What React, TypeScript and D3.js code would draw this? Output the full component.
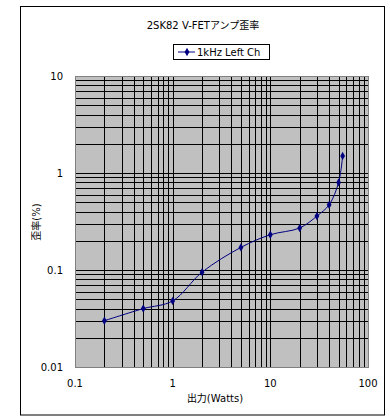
import React, { useEffect, useRef } from 'react';
import * as d3 from 'd3';

// 出力 (W) と歪率 (%)
const power = [0.2, 0.5, 1, 2, 5, 10, 20, 30, 40, 50, 55];
const distortion = [0.03, 0.04, 0.048, 0.095, 0.171, 0.231, 0.271, 0.36, 0.47, 0.8, 1.5];
const xTicks = [0.1, 1, 10, 100];
const xTickLabels = ['0.1', '1', '10', '100'];
const yTicks = [0.01, 0.1, 1, 10];
const yTickLabels = ['0.01', '0.1', '1', '10'];
const seriesName = '1kHz Left Ch';
const title = '2SK82 V-FETアンプ歪率';

const FONT = '"DejaVu Sans", "Noto Sans CJK JP", sans-serif';

const App = () => {
    const ref = useRef<SVGSVGElement>(null);

    useEffect(() => {
        const svg = d3.select(ref.current);
        svg.selectAll('*').remove();

        const plot = { left: 75, top: 76, right: 368, bottom: 367 };

        // 外枠
        svg.append('rect')
            .attr('x', 20.5).attr('y', 6.5)
            .attr('width', 364).attr('height', 408.5)
            .attr('fill', 'white').attr('stroke', 'black');

        const x = d3.scaleLog().domain([0.1, 100]).range([plot.left, plot.right]);
        const y = d3.scaleLog().domain([0.01, 10]).range([plot.bottom, plot.top]);

        // プロットエリア
        svg.append('rect')
            .attr('x', plot.left).attr('y', plot.top)
            .attr('width', plot.right - plot.left).attr('height', plot.bottom - plot.top)
            .attr('fill', '#c0c0c0');

        // グリッド (1..9 per decade)
        const xMinor: number[] = [];
        [0.1, 1, 10].forEach(d => { for (let i = 1; i <= 9; i++) xMinor.push(d * i); });
        const yMinor: number[] = [];
        [0.01, 0.1, 1].forEach(d => { for (let i = 1; i <= 9; i++) yMinor.push(d * i); });

        const grid = svg.append('g').attr('stroke', 'black').attr('stroke-width', 1);
        grid.selectAll('line.v')
            .data(xMinor.slice(1))
            .join('line')
            .attr('class', 'v')
            .attr('x1', d => Math.round(x(d)) + 0.5).attr('x2', d => Math.round(x(d)) + 0.5)
            .attr('y1', plot.top).attr('y2', plot.bottom);
        grid.selectAll('line.h')
            .data(yMinor.slice(1))
            .join('line')
            .attr('class', 'h')
            .attr('y1', d => Math.round(y(d)) + 0.5).attr('y2', d => Math.round(y(d)) + 0.5)
            .attr('x1', plot.left).attr('x2', plot.right);

        svg.append('rect')
            .attr('x', plot.left + 0.5).attr('y', plot.top + 0.5)
            .attr('width', plot.right - plot.left).attr('height', plot.bottom - plot.top)
            .attr('fill', 'none').attr('stroke', '#808080');

        // 軸ラベル
        svg.append('g')
            .selectAll('text')
            .data(xTicks)
            .join('text')
            .attr('x', d => x(d))
            .attr('y', plot.bottom + 20)
            .attr('text-anchor', 'middle')
            .attr('font-family', FONT).attr('font-size', 10)
            .text((d, i) => xTickLabels[i]);

        svg.append('g')
            .selectAll('text')
            .data(yTicks)
            .join('text')
            .attr('x', plot.left - 12)
            .attr('y', d => y(d) + 4)
            .attr('text-anchor', 'end')
            .attr('font-family', FONT).attr('font-size', 10)
            .text((d, i) => yTickLabels[i]);

        svg.append('text')
            .attr('x', 215).attr('y', 402)
            .attr('text-anchor', 'middle')
            .attr('font-family', FONT).attr('font-size', 10)
            .text('出力(Watts)');

        svg.append('text')
            .attr('transform', `translate(40,222) rotate(-90)`)
            .attr('text-anchor', 'middle')
            .attr('font-family', FONT).attr('font-size', 10)
            .text('歪率(%)');

        svg.append('text')
            .attr('x', 203).attr('y', 29)
            .attr('text-anchor', 'middle')
            .attr('font-family', FONT).attr('font-size', 10)
            .text(title);

        // 系列
        const navy = '#000080';
        const pts = power.map((p, i) => [x(p), y(distortion[i])] as [number, number]);
        svg.append('path')
            .attr('d', d3.line().curve(d3.curveCatmullRom)(pts))
            .attr('fill', 'none').attr('stroke', navy).attr('stroke-width', 1);

        const diamond = d3.symbol().type(d3.symbolDiamond).size(20);
        svg.append('g')
            .selectAll('path')
            .data(pts)
            .join('path')
            .attr('transform', d => `translate(${d[0]},${d[1]})`)
            .attr('d', diamond())
            .attr('fill', navy);

        // 凡例
        const lg = svg.append('g');
        lg.append('rect')
            .attr('x', 173.5).attr('y', 44.5).attr('width', 96).attr('height', 15)
            .attr('fill', 'white').attr('stroke', 'black');
        lg.append('line')
            .attr('x1', 178).attr('x2', 195).attr('y1', 52).attr('y2', 52)
            .attr('stroke', navy);
        lg.append('path')
            .attr('transform', 'translate(187,52)')
            .attr('d', diamond())
            .attr('fill', navy);
        lg.append('text')
            .attr('x', 197).attr('y', 56)
            .attr('font-family', FONT).attr('font-size', 10)
            .text(seriesName);
    }, []);

    return (
        <svg ref={ref} width={390} height={420}
            style={{ position: 'absolute', left: 0, top: 0, background: 'white' }} />
    );
};

export default App;
